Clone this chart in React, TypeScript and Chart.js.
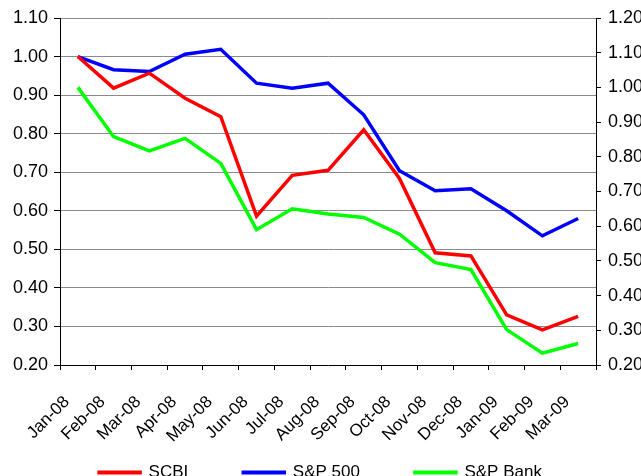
import React, { useEffect, useRef } from "react";
import { Chart, registerables } from "chart.js";

Chart.register(...registerables);

const months = [
  "Jan-08", "Feb-08", "Mar-08", "Apr-08", "May-08", "Jun-08", "Jul-08", "Aug-08",
  "Sep-08", "Oct-08", "Nov-08", "Dec-08", "Jan-09", "Feb-09", "Mar-09",
];

const scbi = [1.0, 0.918, 0.957, 0.892, 0.844, 0.586, 0.692, 0.705, 0.81, 0.684, 0.491, 0.483, 0.33, 0.291, 0.326];
const sp500 = [1.0, 0.966, 0.961, 1.006, 1.019, 0.931, 0.918, 0.931, 0.849, 0.704, 0.652, 0.657, 0.6, 0.535, 0.58];
const spBank = [1.0, 0.858, 0.817, 0.853, 0.781, 0.59, 0.65, 0.635, 0.625, 0.577, 0.495, 0.475, 0.302, 0.234, 0.262];

const leftMin = 0.2;
const leftMax = 1.1;
const rightMin = 0.2;
const rightMax = 1.2;
const stepSize = 0.1;

const FONT = "'Liberation Sans', Arial, sans-serif";
const GRID = "#8a8a8a";

export default function App() {
  const ref = useRef<HTMLCanvasElement | null>(null);

  useEffect(() => {
    if (!ref.current) return;
    const chart = new Chart(ref.current, {
      type: "line",
      data: {
        labels: months,
        datasets: [
          {
            label: "SCBI",
            data: scbi,
            borderColor: "#ff0000",
            backgroundColor: "#ff0000",
            borderWidth: 3.5,
            pointRadius: 0,
            tension: 0,
            yAxisID: "y",
          },
          {
            label: "S&P 500",
            data: sp500,
            borderColor: "#0000ff",
            backgroundColor: "#0000ff",
            borderWidth: 3.5,
            pointRadius: 0,
            tension: 0,
            yAxisID: "y",
          },
          {
            label: "S&P Bank",
            data: spBank,
            borderColor: "#00ff00",
            backgroundColor: "#00ff00",
            borderWidth: 3.5,
            pointRadius: 0,
            tension: 0,
            yAxisID: "y1",
          },
        ],
      },
      options: {
        responsive: false,
        animation: false,
        layout: { padding: { top: 18, left: 0, right: 0, bottom: 0 } },
        plugins: {
          tooltip: { enabled: false },
          legend: {
            position: "bottom",
            labels: {
              boxWidth: 41,
              boxHeight: 0.5,
              padding: 55,
              color: "#000",
              font: { family: FONT, size: 17 },
            },
          },
        },
        scales: {
          x: {
            type: "category",
            offset: true,
            grid: {
              offset: true,
              drawOnChartArea: false,
              drawTicks: true,
              tickLength: 5,
              tickColor: "#000",
            },
            border: { color: "#000", width: 1 },
            ticks: {
              autoSkip: false,
              minRotation: 45,
              maxRotation: 45,
              padding: 22,
              labelOffset: -11,
              color: "#000",
              font: { family: FONT, size: 17 },
            },
            afterFit: (s: any) => {
              s.height = 44;
              s._computeLabelArea = () => undefined;
            },
          },
          y: {
            position: "left",
            min: leftMin,
            max: leftMax,
            grid: {
              color: (c: any) => (c.tick && Math.abs(c.tick.value - leftMin) < 1e-6 ? "rgba(0,0,0,0)" : GRID),
              tickColor: "#000",
              tickLength: 6,
              lineWidth: 1,
            },
            border: { color: "#000", width: 1 },
            ticks: {
              stepSize,
              padding: 6,
              color: "#000",
              font: { family: FONT, size: 18 },
              callback: (v: any) => Number(v).toFixed(2),
            },
            afterFit: (s: any) => {
              s.width = 60;
            },
          },
          y1: {
            position: "right",
            min: rightMin,
            max: rightMax,
            grid: {
              drawOnChartArea: false,
              tickColor: "#000",
              tickLength: 5,
            },
            border: { color: "#000", width: 1 },
            ticks: {
              stepSize,
              padding: 7,
              color: "#000",
              font: { family: FONT, size: 18 },
              callback: (v: any) => Number(v).toFixed(2),
            },
            afterFit: (s: any) => {
              s.width = 45;
            },
          },
        },
      },
    });
    return () => chart.destroy();
  }, []);

  return (
    <div
      style={{
        position: "absolute",
        left: 0,
        top: 0,
        width: 641,
        height: 476,
        overflow: "hidden",
        background: "#fff",
      }}
    >
      <canvas ref={ref} width={641} height={491} style={{ display: "block" }} />
    </div>
  );
}
